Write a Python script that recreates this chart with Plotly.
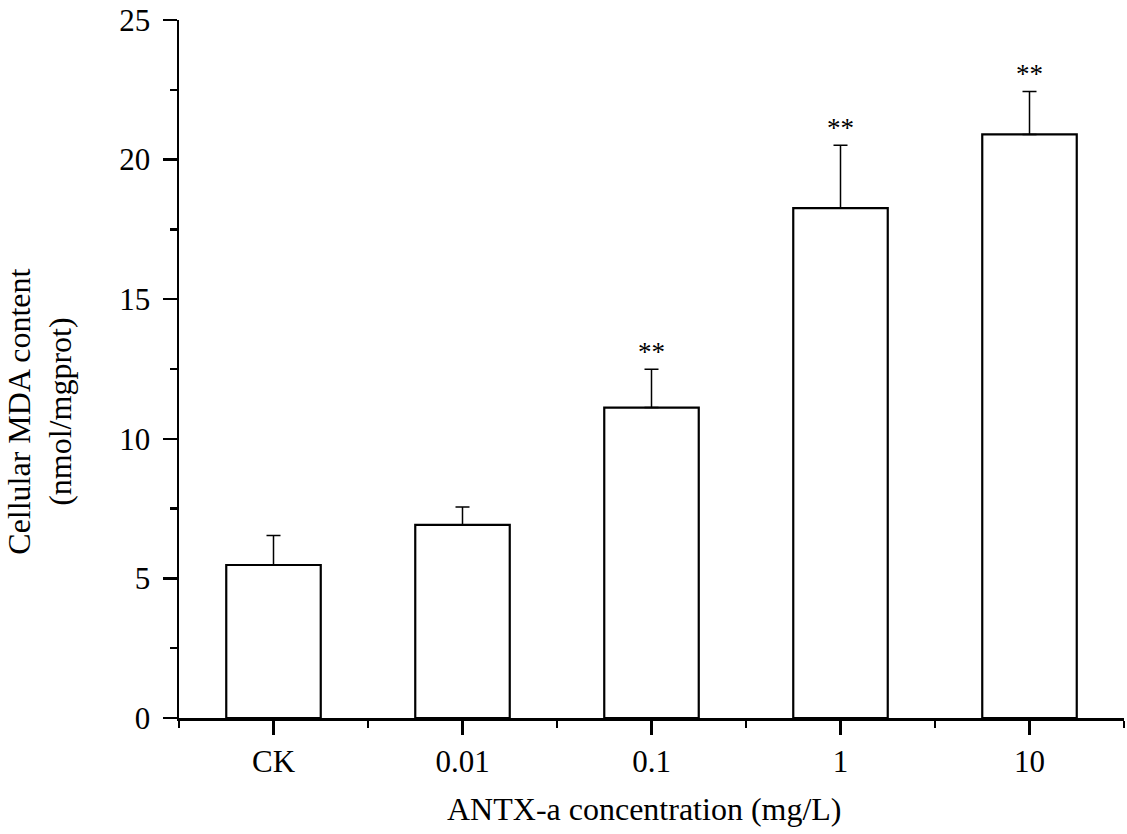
import plotly.graph_objects as go

categories = ["CK", "0.01", "0.1", "1", "10"]
mda_mean = [5.48, 6.92, 11.12, 18.26, 20.90]
mda_err = [1.06, 0.64, 1.37, 2.25, 1.54]
significance = ["", "", "**", "**", "**"]
y_ticks = [0, 5, 10, 15, 20, 25]

FONT = "Liberation Serif"
xpos = list(range(len(categories)))

fig = go.Figure()
fig.add_trace(go.Bar(
    x=xpos, y=mda_mean, width=0.5,
    marker=dict(color="white", line=dict(color="black", width=2.2)),
    error_y=dict(type="data", symmetric=False, array=mda_err,
                 arrayminus=[0] * len(mda_err), color="black",
                 thickness=1.5, width=7),
    showlegend=False,
))

for x, m, e, s in zip(xpos, mda_mean, mda_err, significance):
    if s:
        fig.add_annotation(x=x, y=m + e, text=s, showarrow=False,
                           yanchor="bottom", yshift=0,
                           font=dict(family=FONT, size=27, color="black"))

fig.add_annotation(xref="paper", yref="paper", x=-0.148, y=0.439,
                   text="Cellular MDA content<br>(nmol/mgprot)",
                   textangle=-90, showarrow=False,
                   xanchor="center", yanchor="middle",
                   font=dict(family=FONT, size=32, color="black"))
fig.add_annotation(xref="paper", yref="paper", x=0.493, y=-0.131,
                   text="ANTX-a concentration (mg/L)", showarrow=False,
                   xanchor="center", yanchor="middle",
                   font=dict(family=FONT, size=32, color="black"))

fig.update_layout(
    width=1127, height=834,
    margin=dict(l=179, r=3, t=17, b=116),
    plot_bgcolor="white", paper_bgcolor="white",
    font=dict(family=FONT, color="black"),
)
fig.update_xaxes(
    range=[-0.5, 4.5], tickmode="array", tickvals=xpos, ticktext=categories,
    showline=True, linecolor="black", linewidth=2.5,
    ticks="outside", ticklen=14, tickwidth=2.5, tickcolor="black",
    tickfont=dict(family=FONT, size=31, color="black"),
    minor=dict(tickmode="array", tickvals=[i - 0.5 for i in range(len(categories) + 1)],
               ticks="outside", ticklen=7, tickwidth=2.5, tickcolor="black"),
    showgrid=False, zeroline=False,
)
fig.update_yaxes(
    range=[0, 25], tickmode="array", tickvals=y_ticks,
    showline=True, linecolor="black", linewidth=2.5,
    ticks="outside", ticklen=14, tickwidth=2.5, tickcolor="black",
    tickfont=dict(family=FONT, size=31, color="black"),
    ticklabelstandoff=6, ticklabeloverflow="allow",
    minor=dict(dtick=2.5, tick0=0, ticks="outside", ticklen=7, tickwidth=2.5,
               tickcolor="black"),
    showgrid=False, zeroline=False,
)

fig.write_html("out.html", config={"displayModeBar": False, "staticPlot": True})

# remove the default 8px page margin so the figure fills the window exactly
with open("out.html", encoding="utf-8") as f:
    html = f.read()
html = html.replace("<body>", '<body style="margin:0;overflow:hidden">', 1)
with open("out.html", "w", encoding="utf-8") as f:
    f.write(html)
